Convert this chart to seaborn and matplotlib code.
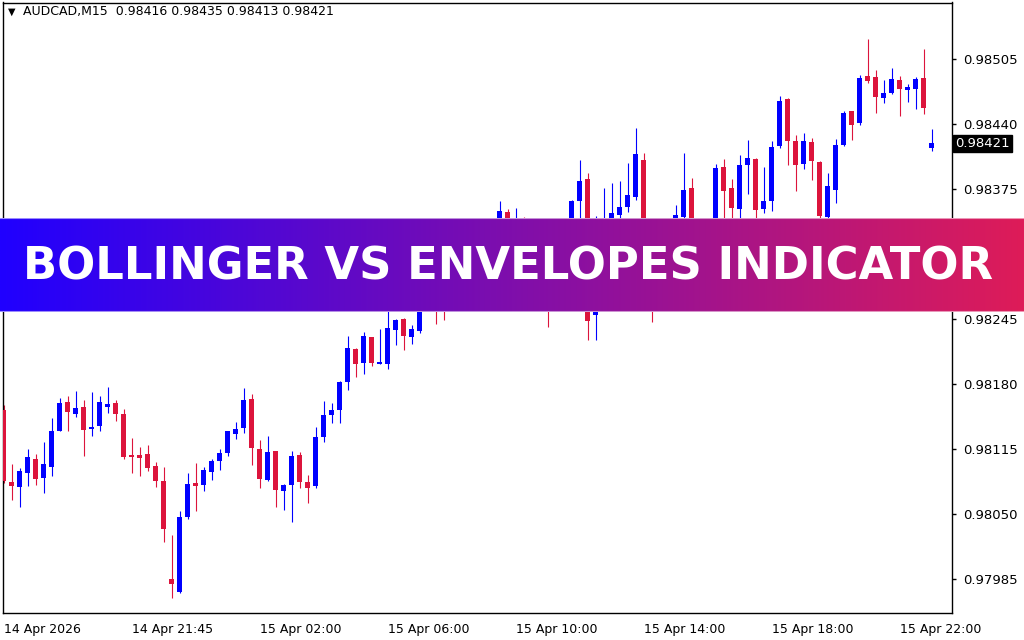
import numpy as np
import pandas as pd
import matplotlib
matplotlib.use("Agg")
import matplotlib.pyplot as plt
import seaborn as sns

# ---------------- data (prices in 1e-5 units) ----------------
opens = [98154, 98082, 98077, 98091, 98105, 98086, 98097, 98133, 98162, 98150,
         98157, 98135, 98138, 98157, 98161, 98150, 98109, 98109, 98110, 98098,
         98083, 97985, 97972, 98047, 98081, 98079, 98092, 98103, 98111, 98130,
         98136, 98165, 98115, 98084, 98113, 98073, 98079, 98109, 98082, 98078,
         98127, 98149, 98154, 98182, 98215, 98201, 98227, 98200, 98200, 98234,
         98245, 98227, 98233, 98264, 98279, 98264, 98256, 98274, 98294, 98282,
         98308, 98324, 98316, 98352, 98319, 98338, 98314, 98299, 98319, 98279,
         98304, 98289, 98363, 98385, 98249, 98319, 98324, 98349, 98357, 98367,
         98404, 98324, 98274, 98294, 98314, 98347, 98376, 98329, 98314, 98334,
         98397, 98376, 98355, 98399, 98405, 98355, 98363, 98418, 98465, 98423,
         98400, 98422, 98402, 98347, 98374, 98419, 98453, 98441, 98488, 98487,
         98466, 98471, 98484, 98474, 98475, 98486, 98416]
highs = [98159, 98100, 98096, 98115, 98110, 98122, 98146, 98166, 98168, 98173,
         98164, 98172, 98168, 98177, 98164, 98155, 98126, 98117, 98119, 98102,
         98097, 98029, 98053, 98091, 98101, 98097, 98105, 98115, 98133, 98142,
         98176, 98170, 98124, 98128, 98113, 98080, 98113, 98112, 98089, 98137,
         98163, 98161, 98183, 98228, 98216, 98232, 98227, 98235, 98259, 98245,
         98246, 98239, 98269, 98279, 98284, 98274, 98279, 98302, 98299, 98316,
         98332, 98336, 98363, 98355, 98356, 98347, 98324, 98329, 98326, 98314,
         98319, 98364, 98404, 98391, 98348, 98376, 98381, 98383, 98401, 98436,
         98411, 98334, 98302, 98324, 98359, 98411, 98386, 98339, 98342, 98400,
         98405, 98385, 98409, 98424, 98406, 98397, 98423, 98468, 98466, 98429,
         98431, 98426, 98403, 98391, 98425, 98453, 98453, 98489, 98525, 98494,
         98484, 98496, 98488, 98480, 98487, 98515, 98435]
lows = [98081, 98064, 98057, 98078, 98079, 98071, 98088, 98133, 98133, 98147,
        98108, 98128, 98133, 98151, 98143, 98105, 98091, 98088, 98093, 98077,
        98022, 97966, 97971, 98045, 98053, 98073, 98084, 98094, 98108, 98125,
        98131, 98099, 98076, 98083, 98057, 98054, 98042, 98076, 98061, 98076,
        98122, 98141, 98141, 98174, 98187, 98190, 98198, 98200, 98195, 98219,
        98214, 98220, 98231, 98259, 98240, 98244, 98253, 98269, 98264, 98276,
        98302, 98309, 98312, 98324, 98314, 98306, 98284, 98289, 98237, 98269,
        98264, 98284, 98339, 98224, 98224, 98314, 98319, 98339, 98352, 98364,
        98314, 98242, 98264, 98284, 98312, 98339, 98319, 98302, 98306, 98329,
        98339, 98336, 98339, 98370, 98346, 98351, 98353, 98416, 98399, 98373,
        98395, 98384, 98345, 98346, 98361, 98418, 98424, 98439, 98481, 98451,
        98461, 98470, 98448, 98462, 98455, 98450, 98413]
closes = [98083, 98078, 98093, 98107, 98085, 98100, 98133, 98161, 98152, 98156,
          98134, 98137, 98162, 98160, 98150, 98107, 98107, 98106, 98096, 98083,
          98035, 97980, 98047, 98080, 98078, 98094, 98103, 98111, 98133, 98135,
          98164, 98116, 98085, 98112, 98074, 98079, 98108, 98082, 98076, 98127,
          98149, 98154, 98182, 98216, 98200, 98228, 98201, 98202, 98236, 98244,
          98228, 98235, 98264, 98274, 98259, 98254, 98274, 98294, 98284, 98309,
          98324, 98316, 98353, 98329, 98339, 98314, 98299, 98319, 98279, 98304,
          98289, 98363, 98383, 98243, 98319, 98339, 98351, 98357, 98369, 98410,
          98324, 98274, 98294, 98314, 98349, 98374, 98329, 98314, 98334, 98396,
          98373, 98356, 98399, 98406, 98354, 98363, 98417, 98463, 98423, 98399,
          98423, 98403, 98348, 98378, 98419, 98451, 98439, 98486, 98483, 98467,
          98471, 98485, 98475, 98477, 98485, 98456, 98421]

x_tick_bars = [0, 16, 32, 48, 64, 80, 96, 112]
x_tick_labels = ["14 Apr 2026", "14 Apr 21:45", "15 Apr 02:00", "15 Apr 06:00",
                 "15 Apr 10:00", "15 Apr 14:00", "15 Apr 18:00", "15 Apr 22:00"]
y_ticks = [0.97985, 0.98050, 0.98115, 0.98180, 0.98245, 0.98375, 0.98440, 0.98505]
header = "AUDCAD,M15  0.98416 0.98435 0.98413 0.98421"
banner_title = "BOLLINGER VS ENVELOPES INDICATOR"

df = pd.DataFrame({
    "open": np.array(opens) / 1e5,
    "high": np.array(highs) / 1e5,
    "low": np.array(lows) / 1e5,
    "close": np.array(closes) / 1e5,
})
df["bar"] = np.arange(len(df))
df["bull"] = df["close"] >= df["open"]

# ---------------- style ----------------
sns.set_style("white")
plt.rcParams["font.family"] = ["DejaVu Sans"]

BLUE = "#0000FF"
RED = "#DC143C"

W, H = 1024, 640
fig = plt.figure(figsize=(W / 100, H / 100), dpi=100)
fig.patch.set_facecolor("white")

ax_left, ax_right, ax_top, ax_bottom = 2.5, 952, 2.5, 613
ax = fig.add_axes([ax_left / W, 1 - ax_bottom / H, (ax_right - ax_left) / W, (ax_bottom - ax_top) / H])
ax.set_facecolor("white")

colors = np.where(df["bull"], BLUE, RED)
# wicks
ax.vlines(df["bar"], df["low"], df["high"], colors=colors, linewidth=0.8, zorder=2)
# bodies
body_bottom = np.minimum(df["open"], df["close"])
body_h = np.maximum(np.abs(df["close"] - df["open"]), 0.000015)
ax.bar(df["bar"], body_h, bottom=body_bottom, width=0.65, color=colors,
       linewidth=0, zorder=3)

ax.set_xlim(-0.15, 118.56)
ax.set_ylim(0.97951, 0.98562)

for s in ax.spines.values():
    s.set_visible(True)
    s.set_color("black")
    s.set_linewidth(1.0)

ax.yaxis.tick_right()
ax.set_yticks(y_ticks)
ax.set_yticklabels([f"{v:.5f}" for v in y_ticks], fontsize=9.5, ha="left")
ax.set_xticks(x_tick_bars)
ax.set_xticklabels(x_tick_labels, fontsize=9, ha="left")
ax.tick_params(axis="y", direction="out", length=3, width=1, pad=5, colors="black", labelcolor="black")
ax.tick_params(axis="x", direction="out", length=4, width=1, pad=3, colors="black", labelcolor="black")
ax.set_xlabel("")
ax.set_ylabel("")
ax.grid(False)

# current price tag
last = df["close"].iloc[-1]
ax.text(1.0035, last, f"{last:.5f}", transform=ax.get_yaxis_transform(),
        ha="left", va="center", fontsize=9.5, color="white",
        bbox=dict(boxstyle="square,pad=0.15", fc="black", ec="black"), zorder=10,
        clip_on=False)

# header
fig.text(8 / W, 1 - 12 / H, "▼", fontsize=7, color="black", ha="left", va="center")
fig.text(23 / W, 1 - 12 / H, header, fontsize=9, color="black", ha="left", va="center")

# ---------------- banner ----------------
b_top, b_bot = 218, 312
bax = fig.add_axes([0, 1 - b_bot / H, 1, (b_bot - b_top) / H], zorder=20)
c0 = np.array([32, 0, 255]) / 255
c1 = np.array([222, 28, 88]) / 255
t = np.linspace(0, 1, 512)[None, :, None]
grad = c0[None, None, :] * (1 - t) + c1[None, None, :] * t
bax.imshow(grad, aspect="auto", extent=(0, 1, 0, 1), interpolation="bilinear")
bax.set_xlim(0, 1)
bax.set_ylim(0, 1)
bax.axis("off")
bax.axhline(0.995, color="white", alpha=0.55, linewidth=1.5)
bax.axhline(0.005, color="white", alpha=0.55, linewidth=1.5)

txt = bax.text(508.5 / W, (b_bot - 280) / (b_bot - b_top), banner_title,
               ha="center", va="baseline", color="white", fontsize=32,
               fontweight="bold", family=["DejaVu Sans"])
fig.canvas.draw()
bb = txt.get_window_extent(renderer=fig.canvas.get_renderer())
target_w = 973
txt.set_fontsize(32 * target_w / bb.width)

fig.savefig("out.png", dpi=100, facecolor="white")
